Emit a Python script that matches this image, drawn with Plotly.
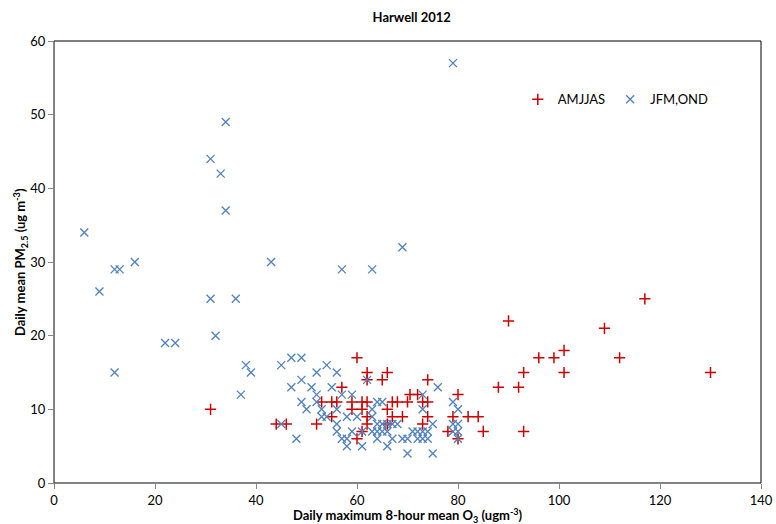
import plotly.graph_objects as go

# AMJJAS (red +)
amj_x = [31, 44, 46, 52, 55, 57, 60, 62, 62, 53, 55, 56, 59, 61, 62, 59, 61, 62, 62, 60, 61,
         65, 66, 74, 70.5, 72, 80, 67, 68, 70, 73, 74, 66, 67, 69, 74, 66, 73, 79, 82, 84,
         78, 85, 93, 80, 88, 92, 93, 96, 99, 101, 101, 90, 109, 112, 117, 130]
amj_y = [10, 8, 8, 8, 9, 13, 17, 15, 14, 11, 11, 11, 11, 11, 11, 10, 10, 9, 8, 6, 7,
         14, 15, 14, 12, 12, 12, 11, 11, 11, 11, 11, 10, 9, 9, 9, 8, 8, 9, 9, 9,
         7, 7, 7, 6, 13, 13, 15, 17, 17, 18, 15, 22, 21, 17, 25, 15]

# JFM,OND (blue x)
jfm_x = [6, 9, 12, 13, 16, 12, 22, 24, 31, 33, 34, 34, 31, 32, 36, 43, 38, 39, 37, 45,
         47, 49, 47, 45, 48, 57, 63, 69, 79,
         52, 54, 56, 49, 51, 55, 52, 57, 59, 62, 49, 52, 64, 65, 50, 53, 56,
         53, 54, 58, 60, 63, 63, 56, 56, 57, 58, 58, 59, 61, 61,
         64, 65, 66, 67, 68, 63, 64, 65, 66, 64, 66, 67, 69, 70, 70,
         71, 72, 73, 74, 72, 73, 74, 75, 75, 73, 73, 76, 79, 80, 79, 80, 79, 80, 80]
jfm_y = [34, 26, 29, 29, 30, 15, 19, 19, 44, 42, 37, 49, 25, 20, 25, 30, 16, 15, 12, 16,
         17, 17, 13, 8, 6, 29, 29, 32, 57,
         15, 16, 15, 14, 13, 13, 12, 12, 12, 14, 11, 11, 11, 11, 10, 10, 10,
         9, 9, 9, 9, 10, 9, 8, 7, 6, 6, 5, 7, 7, 5,
         8, 8, 8, 8, 8, 7, 7, 7, 7, 6, 5, 6, 6, 6, 4,
         7, 7, 7, 7, 6, 6, 6, 4, 8, 10, 12, 13, 11, 10, 8, 8, 7, 7, 6]

x_ticks = [0, 20, 40, 60, 80, 100, 120, 140]
y_ticks = [0, 10, 20, 30, 40, 50, 60]

FONT = "Lato, 'Open Sans', sans-serif"
H = 524
T, B = 41, 41
PLOT_H = H - T - B

fig = go.Figure()
fig.add_trace(go.Scatter(
    x=amj_x, y=amj_y, mode="markers", name="AMJJAS",
    marker=dict(symbol="cross-thin-open", size=8, color="#CC0000",
                line=dict(width=1.5, color="#CC0000")),
))
fig.add_trace(go.Scatter(
    x=jfm_x, y=jfm_y, mode="markers", name="JFM,OND",
    marker=dict(symbol="x-thin-open", size=8, color="#4F81BD",
                line=dict(width=1.3, color="#4F81BD")),
))

axis_common = dict(showgrid=False, zeroline=False, showline=True, linecolor="#868686",
                   linewidth=1, ticks="outside", ticklen=5, tickcolor="#868686",
                   tickfont=dict(family=FONT, size=13, color="#000000"), automargin=False)

fig.update_xaxes(range=[0, 140], tickvals=x_ticks, ticktext=[str(v) for v in x_ticks], **axis_common)
fig.update_yaxes(range=[0, 60], tickvals=y_ticks, ticktext=[str(v) for v in y_ticks], **axis_common)

fig.add_shape(type="rect", xref="paper", yref="paper", x0=0, y0=0, x1=1, y1=1,
              line=dict(color="#000000", width=1), layer="below")

fig.add_annotation(text="<b>Daily maximum 8-hour mean O<sub>3</sub> (ugm<sup>-3</sup>)</b>",
                   xref="paper", yref="paper", x=0.5, y=-(515 - (H - B)) / PLOT_H,
                   xanchor="center", yanchor="middle", showarrow=False,
                   font=dict(family=FONT, size=13, color="#000000"))
fig.add_annotation(text="<b>Daily mean PM<sub>2.5</sub> (ug m<sup>-3</sup>)</b>",
                   xref="paper", yref="paper", x=-(54 - 20) / 707, y=0.5, textangle=-90,
                   xanchor="center", yanchor="middle", showarrow=False,
                   font=dict(family=FONT, size=13, color="#000000"))

fig.update_layout(
    width=776, height=H,
    margin=dict(l=54, r=15, t=T, b=B),
    paper_bgcolor="white", plot_bgcolor="white",
    title=dict(text="<b>Harwell 2012</b>", x=0.506, xref="paper", xanchor="center",
               y=1 - 17 / H, yref="container", yanchor="middle",
               font=dict(family=FONT, size=13, color="#000000")),
    legend=dict(orientation="h", x=0.656, y=0.868, xanchor="left", yanchor="middle",
                font=dict(family=FONT, size=13, color="#000000"),
                bgcolor="rgba(0,0,0,0)", itemwidth=30, tracegroupgap=0),
    showlegend=True,
)

fig.write_html("out.html", config={"displayModeBar": False},
               post_script="document.body.style.margin='0';document.body.style.overflow='hidden';")
